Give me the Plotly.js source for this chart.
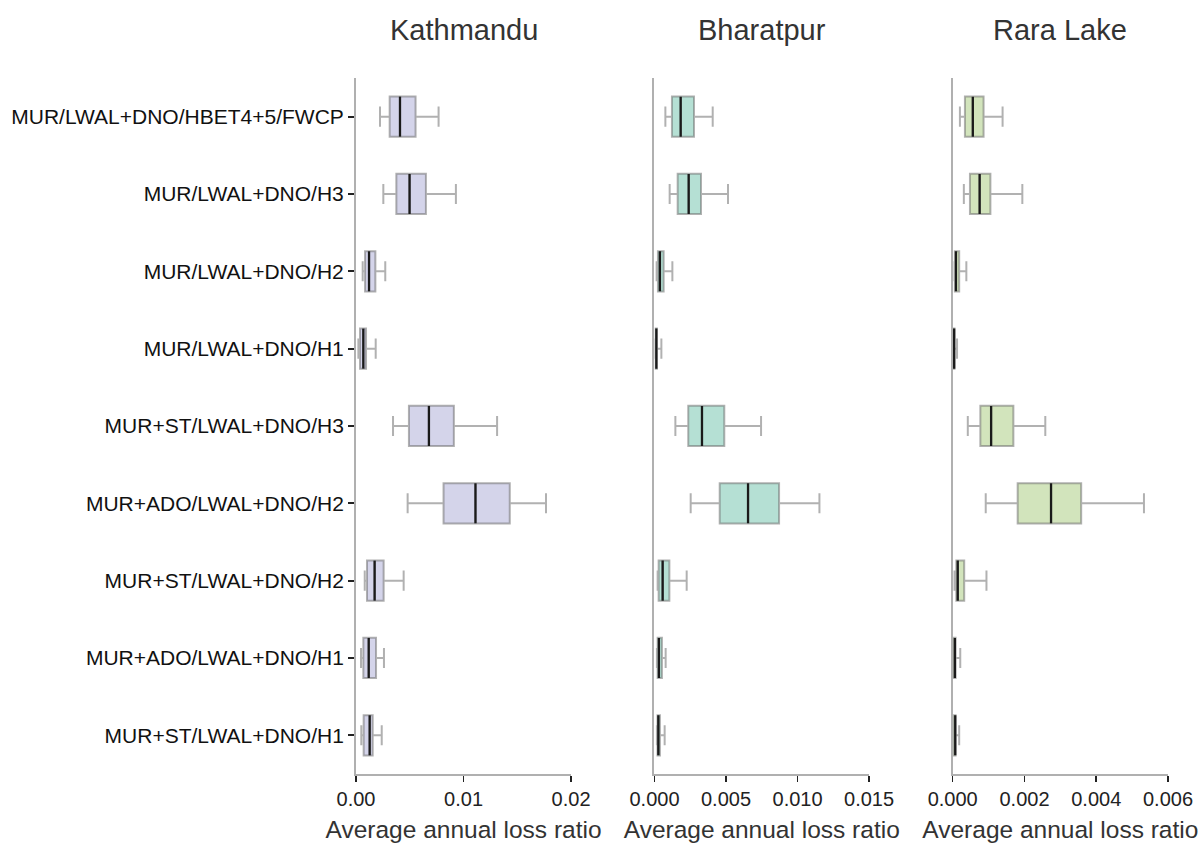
<!DOCTYPE html>
<html>
<head>
<meta charset="utf-8">
<script src="https://cdn.plot.ly/plotly-3.0.1.min.js"></script>
<style>html,body{margin:0;padding:0;background:#fff;}#chart{width:1204px;height:843px;}</style>
</head>
<body>
<div id="chart"></div>
<script>
// Categories (top to bottom)
const categories = [
  "MUR/LWAL+DNO/HBET4+5/FWCP",
  "MUR/LWAL+DNO/H3",
  "MUR/LWAL+DNO/H2",
  "MUR/LWAL+DNO/H1",
  "MUR+ST/LWAL+DNO/H3",
  "MUR+ADO/LWAL+DNO/H2",
  "MUR+ST/LWAL+DNO/H2",
  "MUR+ADO/LWAL+DNO/H1",
  "MUR+ST/LWAL+DNO/H1"
];
const cities = ["Kathmandu", "Bharatpur", "Rara Lake"];

// Kathmandu
const ktmLow = [0.00223, 0.00254, 0.00062, 0.00022, 0.00344, 0.00480, 0.00081, 0.00046, 0.00049];
const ktmQ1  = [0.00313, 0.00375, 0.00084, 0.00037, 0.00492, 0.00814, 0.00102, 0.00068, 0.00071];
const ktmMed = [0.00409, 0.00498, 0.00121, 0.00068, 0.00678, 0.01111, 0.00173, 0.00118, 0.00127];
const ktmQ3  = [0.00554, 0.00650, 0.00180, 0.00093, 0.00910, 0.01430, 0.00257, 0.00186, 0.00155];
const ktmHigh= [0.00768, 0.00929, 0.00272, 0.00183, 0.01312, 0.01767, 0.00443, 0.00260, 0.00239];

// Bharatpur
const bhaLow = [0.00076, 0.00106, 0.00015, 0.00003, 0.00146, 0.00253, 0.00022, 0.00017, 0.00017];
const bhaQ1  = [0.00122, 0.00162, 0.00024, 0.00007, 0.00236, 0.00456, 0.00029, 0.00022, 0.00021];
const bhaMed = [0.00183, 0.00239, 0.00038, 0.00013, 0.00332, 0.00654, 0.00057, 0.00031, 0.00027];
const bhaQ3  = [0.00276, 0.00325, 0.00064, 0.00017, 0.00488, 0.00871, 0.00104, 0.00052, 0.00038];
const bhaHigh= [0.00407, 0.00514, 0.00125, 0.00048, 0.00745, 0.01153, 0.00225, 0.00078, 0.00071];

// Rara Lake
const rarLow = [0.00020, 0.00031, 0.00005, 0.00001, 0.00042, 0.00092, 0.00005, 0.00001, 0.00001];
const rarQ1  = [0.00034, 0.00048, 0.00006, 0.00002, 0.00077, 0.00181, 0.00010, 0.00002, 0.00002];
const rarMed = [0.00056, 0.00075, 0.00009, 0.00004, 0.00107, 0.00274, 0.00014, 0.00006, 0.00007];
const rarQ3  = [0.00086, 0.00105, 0.00018, 0.00005, 0.00169, 0.00358, 0.00032, 0.00008, 0.00008];
const rarHigh= [0.00139, 0.00194, 0.00038, 0.00012, 0.00258, 0.00533, 0.00094, 0.00021, 0.00018];

const xTickVals1 = [0, 0.01, 0.02];
const xTickText1 = ["0.00", "0.01", "0.02"];
const xTickVals2 = [0, 0.005, 0.01, 0.015];
const xTickText2 = ["0.000", "0.005", "0.010", "0.015"];
const xTickVals3 = [0, 0.002, 0.004, 0.006];
const xTickText3 = ["0.000", "0.002", "0.004", "0.006"];
const xRanges = [[0, 0.02], [0, 0.015], [0, 0.006]];
const axisTitle = "Average annual loss ratio";

const fills = ["#d4d4ea", "#b5e0d4", "#d2e4bc"];
const panels = [
  {low: ktmLow, q1: ktmQ1, med: ktmMed, q3: ktmQ3, high: ktmHigh},
  {low: bhaLow, q1: bhaQ1, med: bhaMed, q3: bhaQ3, high: bhaHigh},
  {low: rarLow, q1: rarQ1, med: rarMed, q3: rarQ3, high: rarHigh}
];
const tickVals = [xTickVals1, xTickVals2, xTickVals3];
const tickText = [xTickText1, xTickText2, xTickText3];
const domains = [[0.2957, 0.4743], [0.5436, 0.7218], [0.7913, 0.9701]];
const yDomain = [0.0819, 0.9075];

const font = "Liberation Sans, Arial, Helvetica, sans-serif";
const traces = [];
const layout = {
  width: 1204, height: 843,
  margin: {l: 0, r: 0, t: 0, b: 0},
  paper_bgcolor: "#ffffff", plot_bgcolor: "#ffffff",
  showlegend: false,
  boxgap: 0.48, boxgroupgap: 0,
  font: {family: font, color: "#222"},
  annotations: []
};

panels.forEach((p, i) => {
  const xa = i === 0 ? "x" : "x" + (i + 1);
  const ya = i === 0 ? "y" : "y" + (i + 1);
  traces.push({
    type: "box", orientation: "h",
    y: categories,
    q1: p.q1, median: p.med, q3: p.q3,
    lowerfence: p.low, upperfence: p.high,
    xaxis: xa, yaxis: ya,
    width: 0.52,
    fillcolor: fills[i],
    line: {color: "rgba(105,105,105,0.52)", width: 2},
    whiskerwidth: 0.5,
    hoverinfo: "skip"
  });
  traces.push({
    type: "scatter", mode: "markers",
    x: p.med, y: categories,
    xaxis: xa, yaxis: ya,
    marker: {symbol: "line-ns", size: 28.6, color: "#1a1a1a", line: {color: "#1a1a1a", width: 2.3}},
    hoverinfo: "skip"
  });
  const xKey = i === 0 ? "xaxis" : "xaxis" + (i + 1);
  const yKey = i === 0 ? "yaxis" : "yaxis" + (i + 1);
  layout[xKey] = {
    domain: domains[i], anchor: ya,
    range: xRanges[i],
    tickvals: tickVals[i], ticktext: tickText[i],
    ticks: "outside", ticklen: 6, tickwidth: 1.5, tickcolor: "#222",
    showline: true, linecolor: "#b0b0b0", linewidth: 2,
    showgrid: false, zeroline: false,
    tickfont: {size: 20, color: "#222", family: font},
    title: {text: axisTitle, font: {size: 24.5, color: "#333", family: font}, standoff: 12},
    automargin: false, fixedrange: true
  };
  layout[yKey] = {
    domain: yDomain, anchor: xa,
    type: "category",
    categoryorder: "array", categoryarray: categories,
    range: [8.5, -0.5],
    showline: true, linecolor: "#b0b0b0", linewidth: 2,
    showgrid: false, zeroline: false,
    ticks: i === 0 ? "outside" : "", ticklen: 6, tickwidth: 2, tickcolor: "#222",
    showticklabels: i === 0,
    tickfont: {size: 21, color: "#111", family: font},
    automargin: false, fixedrange: true
  };
  layout.annotations.push({
    text: cities[i], xref: "paper", yref: "paper",
    x: (domains[i][0] + domains[i][1]) / 2, y: 1 - 30 / 843,
    xanchor: "center", yanchor: "middle", showarrow: false,
    font: {size: 29, color: "#333", family: font}
  });
});

Plotly.newPlot("chart", traces, layout, {staticPlot: true, displayModeBar: false});
</script>
</body>
</html>
